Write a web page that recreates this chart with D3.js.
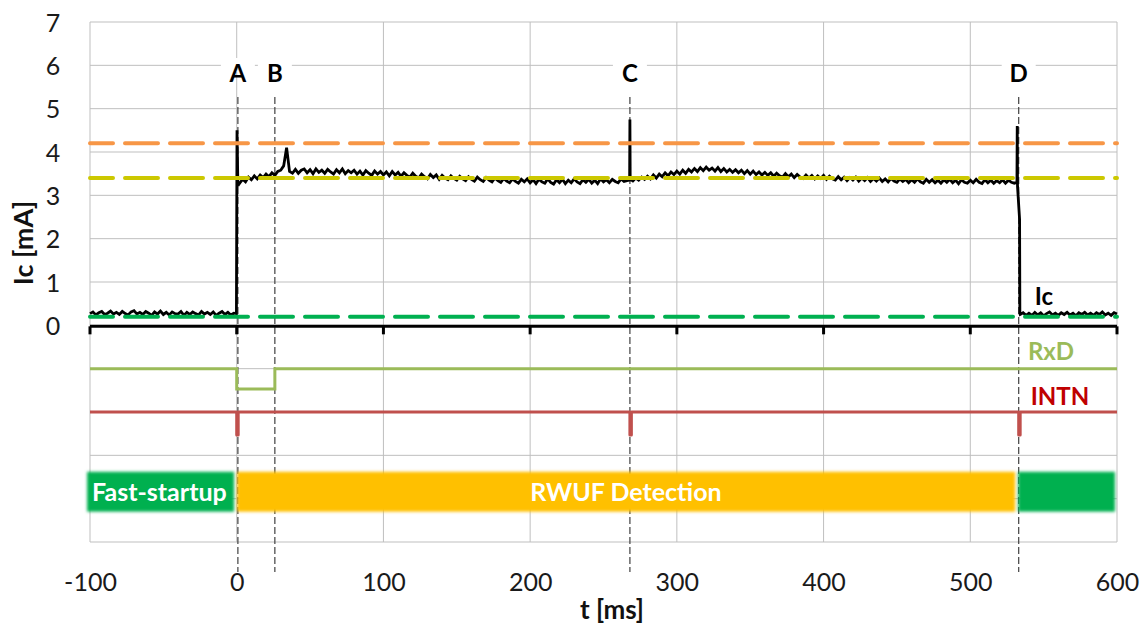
<!DOCTYPE html>
<html>
<head>
<meta charset="utf-8">
<script src="https://cdn.jsdelivr.net/npm/d3@7"></script>
<style>
  html, body { margin: 0; padding: 0; background: #fff; }
  svg { display: block; font-family: Lato, "Open Sans", "Liberation Sans", sans-serif; }
</style>
</head>
<body>
<svg id="chart" width="1146" height="628"></svg>
<script>
// ---------------- data ----------------
const xTicks = [-100, 0, 100, 200, 300, 400, 500, 600];
const yTicks = [0, 1, 2, 3, 4, 5, 6, 7];
const gridRows = [-5, -4, -3, -2, -1, 0, 1, 2, 3, 4, 5, 6, 7];

// Ic trace: sampled every 2 ms from -100 to 600 ms
const icStart = -100, icStep = 2;
const icValues = [
  0.27,0.31,0.24,0.29,0.32,0.25,0.28,0.33,0.26,0.30, // -100
  0.25,0.32,0.27,0.24,0.31,0.34,0.26,0.30,0.25,0.32, // -80
  0.28,0.23,0.31,0.26,0.33,0.25,0.30,0.24,0.31,0.27, // -60
  0.26,0.32,0.23,0.30,0.25,0.31,0.27,0.24,0.32,0.26, // -40
  0.30,0.25,0.31,0.23,0.28,0.32,0.25,0.30,0.24,0.28, // -20
  2.40,3.28,3.37,3.31,3.42,3.36,3.45,3.38,3.47,3.41, // 0
  3.49,3.43,3.52,3.46,3.55,3.58,3.68,4.10,3.55,3.51, // 20
  3.60,3.51,3.58,3.61,3.52,3.59,3.50,3.61,3.53,3.58, // 40
  3.51,3.60,3.54,3.49,3.59,3.52,3.61,3.50,3.57,3.52, // 60
  3.58,3.49,3.56,3.47,3.57,3.51,3.46,3.56,3.49,3.55, // 80
  3.47,3.54,3.45,3.55,3.47,3.53,3.44,3.52,3.46,3.42, // 100
  3.51,3.44,3.40,3.49,3.43,3.38,3.48,3.41,3.47,3.37, // 120
  3.46,3.40,3.36,3.45,3.39,3.35,3.44,3.38,3.34,3.43, // 140
  3.37,3.33,3.42,3.36,3.32,3.41,3.35,3.31,3.40,3.34, // 160
  3.30,3.39,3.33,3.29,3.38,3.32,3.28,3.37,3.31,3.38, // 180
  3.29,3.36,3.27,3.37,3.31,3.28,3.38,3.30,3.26,3.36, // 200
  3.29,3.37,3.27,3.35,3.29,3.38,3.31,3.27,3.36,3.30, // 220
  3.37,3.28,3.35,3.27,3.38,3.31,3.36,3.29,3.37,3.32, // 240
  3.29,3.38,3.32,3.34,4.75,3.33,3.40,3.35,3.42,3.37, // 260
  3.44,3.38,3.47,3.40,3.49,3.43,3.52,3.45,3.54,3.48, // 280
  3.56,3.49,3.58,3.51,3.60,3.54,3.62,3.55,3.64,3.57, // 300
  3.65,3.58,3.63,3.56,3.64,3.55,3.62,3.54,3.60,3.53, // 320
  3.59,3.52,3.58,3.50,3.57,3.49,3.56,3.48,3.54,3.47, // 340
  3.53,3.46,3.52,3.44,3.51,3.45,3.42,3.50,3.43,3.49, // 360
  3.41,3.48,3.42,3.39,3.47,3.40,3.46,3.38,3.45,3.39, // 380
  3.46,3.37,3.44,3.38,3.35,3.43,3.36,3.42,3.34,3.41, // 400
  3.35,3.42,3.33,3.40,3.34,3.41,3.32,3.39,3.33,3.40, // 420
  3.32,3.38,3.31,3.39,3.33,3.30,3.38,3.32,3.37,3.29, // 440
  3.36,3.30,3.38,3.31,3.28,3.37,3.30,3.36,3.29,3.35, // 460
  3.28,3.36,3.30,3.37,3.29,3.35,3.27,3.36,3.30,3.28, // 480
  3.35,3.29,3.37,3.30,3.27,3.36,3.29,3.35,3.28,3.34, // 500
  3.29,3.36,3.28,3.35,3.30,3.28,4.60,0.25,0.29,0.23, // 520
  0.28,0.23,0.30,0.24,0.29,0.22,0.27,0.31,0.24,0.28, // 540
  0.23,0.29,0.25,0.30,0.24,0.28,0.22,0.29,0.25,0.30, // 560
  0.24,0.28,0.23,0.29,0.25,0.31,0.24,0.28,0.23,0.29, // 580
  0.26                                               // 600
];
// extra samples around the sharp edges / spikes
const icEventTimes  = [-0.2, 0.2, 0.8, 267.8, 268.2, 531.8, 532.2, 533.6, 533.8];
const icEventValues = [0.27, 4.50, 3.22, 3.35, 3.37, 3.30, 3.20, 2.45, 0.27];

// reference (threshold) levels
const refLevels = [4.2, 3.4, 0.2];

// digital signals (step traces)
const rxdTimes  = [-100, 0, 0, 26, 26, 600];
const rxdValues = [-1, -1, -1.47, -1.47, -1, -1];
const intnTimes  = [-100, 0, 0, 1, 1, 268, 268, 269, 269, 533, 533, 534, 534, 600];
const intnValues = [-2, -2, -2.53, -2.53, -2, -2, -2.53, -2.53, -2, -2, -2.53, -2.53, -2, -2];

// events
const markerNames = ["A", "B", "C", "D"];
const markerTimes = [0.8, 26, 268, 533];

// phases
const phaseNames  = ["Fast-startup", "RWUF Detection", ""];
const phaseStart  = [-102, 0.3, 532.6];
const phaseEnd    = [-1.8, 530.6, 598.6];
const phaseTop    = -3.38;
const phaseBottom = -4.3;

// ---------------- styles ----------------
const refColors = ["#F79646", "#CCC800", "#00B050"];
const phaseColors = ["#00B050", "#FFC000", "#00B050"];
const gridColor = "#BFBFBF";

// ---------------- chart ----------------
const svg = d3.select("#chart");
const x = d3.scaleLinear().domain([-100, 600]).range([90, 1117]);
const y = d3.scaleLinear().domain([-5, 7]).range([542, 22]);
const intFmt = d => String(d);

const defs = svg.append("defs");
const blur = defs.append("filter").attr("id", "soft")
  .attr("x", "-10%").attr("y", "-40%").attr("width", "120%").attr("height", "180%");
blur.append("feGaussianBlur").attr("stdDeviation", 1.6);

// grid
const grid = svg.append("g");
grid.selectAll("line.h").data(gridRows).join("line")
  .attr("x1", x(-100)).attr("x2", x(600))
  .attr("y1", d => y(d)).attr("y2", d => y(d))
  .attr("stroke", gridColor).attr("stroke-width", 1);
grid.selectAll("line.v").data(xTicks).join("line")
  .attr("class", "v")
  .attr("x1", d => x(d)).attr("x2", d => x(d))
  .attr("y1", y(7)).attr("y2", y(-5))
  .attr("stroke", gridColor).attr("stroke-width", 1);

// marker dashed lines
const markerTop = 97, markerBottom = 572;
svg.append("g").selectAll("line").data(markerTimes).join("line")
  .attr("x1", d => x(d)).attr("x2", d => x(d))
  .attr("y1", markerTop).attr("y2", markerBottom)
  .attr("stroke", "#404040").attr("stroke-width", 1.2)
  .attr("stroke-dasharray", "7 3");

// digital signals
const stepLine = d3.line().x(d => x(d[0])).y(d => y(d[1]));
svg.append("path")
  .attr("d", stepLine(rxdTimes.map((t, i) => [t, rxdValues[i]])))
  .attr("fill", "none").attr("stroke", "#9BBB59").attr("stroke-width", 3);
svg.append("path")
  .attr("d", stepLine(intnTimes.map((t, i) => [t, intnValues[i]])))
  .attr("fill", "none").attr("stroke", "#C0504D").attr("stroke-width", 3)
  .attr("stroke-linejoin", "round");

// phase blocks
const phases = phaseNames.map((n, i) => ({ name: n, s: phaseStart[i], e: phaseEnd[i], c: phaseColors[i] }));
svg.append("g").selectAll("rect").data(phases).join("rect")
  .attr("x", d => x(d.s)).attr("width", d => x(d.e) - x(d.s))
  .attr("y", y(phaseTop)).attr("height", y(phaseBottom) - y(phaseTop))
  .attr("fill", d => d.c).attr("filter", "url(#soft)");
svg.append("text").text(phaseNames[0])
  .attr("x", x(phaseStart[0]) + 5).attr("y", 501)
  .attr("fill", "#fff").attr("font-weight", "bold").attr("font-size", 25);
svg.append("text").text(phaseNames[1])
  .attr("x", 626).attr("y", 501).attr("text-anchor", "middle")
  .attr("fill", "#fff").attr("font-weight", "bold").attr("font-size", 25);

// Ic trace
const icPoints = icValues.map((v, i) => [icStart + i * icStep, v])
  .concat(icEventTimes.map((t, i) => [t, icEventValues[i]]))
  .sort((a, b) => a[0] - b[0]);
svg.append("path")
  .attr("d", d3.line().x(d => x(d[0])).y(d => y(d[1]))(icPoints))
  .attr("fill", "none").attr("stroke", "#000").attr("stroke-width", 2.8)
  .attr("stroke-linejoin", "miter").attr("stroke-miterlimit", 3);

// reference dashed lines
svg.append("g").selectAll("line").data(refLevels).join("line")
  .attr("x1", x(-100)).attr("x2", x(600))
  .attr("y1", d => y(d)).attr("y2", d => y(d))
  .attr("stroke", (d, i) => refColors[i]).attr("stroke-width", 4)
  .attr("stroke-dasharray", "33 12").attr("stroke-dashoffset", 10)
  .attr("stroke-linecap", "round");

// bold time axis at Ic = 0
const axisY = y(0) + 1;
svg.append("line").attr("x1", x(-100)).attr("x2", x(600))
  .attr("y1", axisY).attr("y2", axisY).attr("stroke", "#000").attr("stroke-width", 3);
svg.append("g").selectAll("line").data(xTicks).join("line")
  .attr("x1", d => x(d)).attr("x2", d => x(d))
  .attr("y1", axisY).attr("y2", axisY + 8)
  .attr("stroke", "#000").attr("stroke-width", 3);

// y axis labels
const yAxis = svg.append("g").attr("transform", "translate(62,0)")
  .call(d3.axisLeft(y).tickValues(yTicks).tickSize(0).tickPadding(0).tickFormat(intFmt));
yAxis.select(".domain").remove();
yAxis.selectAll("text").attr("font-size", 25).attr("fill", "#1a1a1a")
  .attr("font-family", "Lato, sans-serif").attr("text-anchor", "middle").attr("x", -9).attr("dy", "0.36em");

// x axis labels
const xAxis = svg.append("g").attr("transform", "translate(0,573)")
  .call(d3.axisBottom(x).tickValues(xTicks).tickSize(0).tickPadding(0).tickFormat(intFmt));
xAxis.select(".domain").remove();
xAxis.selectAll("text").attr("font-size", 25).attr("fill", "#1a1a1a")
  .attr("font-family", "Lato, sans-serif").attr("dy", "0.71em");

// axis titles
svg.append("text").text("Ic [mA]")
  .attr("transform", "translate(33,243) rotate(-90)")
  .attr("text-anchor", "middle").attr("font-weight", "bold").attr("font-size", 27).attr("fill", "#111");
svg.append("text").text("t [ms]")
  .attr("x", 612).attr("y", 619).attr("text-anchor", "middle")
  .attr("font-weight", "bold").attr("font-size", 26).attr("fill", "#111");

// marker labels with white backing
const mk = svg.append("g").selectAll("g").data(markerNames).join("g");
mk.append("rect")
  .attr("x", (d, i) => x(markerTimes[i]) - 17).attr("y", 58)
  .attr("width", 34).attr("height", 14).attr("fill", "#fff");
mk.append("text").text(d => d)
  .attr("x", (d, i) => x(markerTimes[i])).attr("y", 82)
  .attr("text-anchor", "middle").attr("font-weight", "bold").attr("font-size", 24).attr("fill", "#000");

// series labels
svg.append("text").text("Ic").attr("x", 1044).attr("y", 305).attr("text-anchor", "middle")
  .attr("font-weight", "bold").attr("font-size", 24).attr("fill", "#000");
svg.append("text").text("RxD").attr("x", 1051).attr("y", 360).attr("text-anchor", "middle")
  .attr("font-weight", "bold").attr("font-size", 24).attr("fill", "#9BBB59");
svg.append("text").text("INTN").attr("x", 1060).attr("y", 405).attr("text-anchor", "middle")
  .attr("font-weight", "bold").attr("font-size", 24).attr("fill", "#C00000");
</script>
</body>
</html>
